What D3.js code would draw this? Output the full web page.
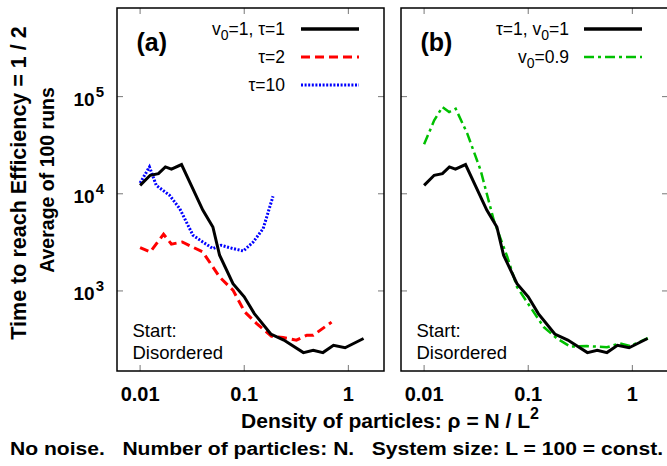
<!DOCTYPE html>
<html>
<head>
<meta charset="utf-8">
<script src="https://cdn.jsdelivr.net/npm/d3@7"></script>
<style>
body { margin: 0; background: #fff; }
svg { font-family: "Liberation Sans", Arial, sans-serif; }
</style>
</head>
<body>
<script>
// v0=1, tau=1 (same run shown in both panels)
let rhoBase = [0.01, 0.0125, 0.015, 0.0175, 0.02, 0.025, 0.031, 0.04, 0.05, 0.058, 0.078, 0.1, 0.125, 0.18, 0.24, 0.37, 0.46, 0.57, 0.72, 0.93, 1.4]
let timeBase = [12200, 15500, 16100, 18900, 17900, 20000, 12200, 6800, 4550, 2330, 1190, 870, 585, 360, 312, 232, 245, 232, 276, 260, 324]

// tau=2
let rhoTau2 = [0.01, 0.0125, 0.0168, 0.02, 0.0254, 0.04, 0.058, 0.078, 0.101, 0.131, 0.183, 0.236, 0.317, 0.4, 0.46, 0.69]
let timeTau2 = [2800, 2520, 3830, 3030, 3190, 2520, 1390, 1020, 610, 464, 342, 332, 312, 350, 350, 478]

// tau=10
let rhoTau10 = [0.01, 0.0123, 0.0143, 0.0192, 0.024, 0.0322, 0.04, 0.05, 0.06, 0.078, 0.098, 0.122, 0.152, 0.189]
let timeTau10 = [12900, 18900, 12200, 9650, 7040, 3740, 3190, 2730, 2950, 2730, 2580, 3190, 4380, 9420]

// v0=0.9
let rhoV09 = [0.01, 0.0125, 0.015, 0.0174, 0.0201, 0.026, 0.0349, 0.0467, 0.063, 0.078, 0.105, 0.141, 0.189, 0.254, 0.366, 0.57, 0.76, 0.95, 1.41]
let timeV09 = [32300, 57000, 78200, 69600, 75100, 41600, 17450, 5340, 2240, 1100, 680, 425, 324, 267, 271, 263, 289, 271, 326]

let xTicks = [0.01, 0.1, 1]
let xTickLabels = ["0.01", "0.1", "1"]
let yTicks = [1e3, 1e4, 1e5]
let yTickExp = ["3", "4", "5"]

let width = 667
let height = 466
let panelW = 267
let panelH = 363

let svg = d3.select("body")
	.append("svg")
	.attr("width", width)
	.attr("height", height)

let x = d3.scaleLog().domain([0.006, 2.2]).range([0, panelW])
let y = d3.scaleLog().domain([150, 8.17e5]).range([panelH, 0])

let line = d3.line()
	.x(d => x(d[0]))
	.y(d => y(d[1]))

let zip = (a, b) => a.map((v, i) => [v, b[i]])

let styles = {
	black: {stroke: "#000", width: 3, dash: null},
	red: {stroke: "#ff0000", width: 3, dash: "9,5"},
	blue: {stroke: "#0000ff", width: 3, dash: "2,1.6"},
	green: {stroke: "#00c000", width: 2.5, dash: "10,4,3,4"}
}

let drawPanel = function(px, tag, series, legend) {
	let g = svg.append("g").attr("transform", "translate(" + px + ",8)")

	// clip so lines stay inside the frame
	let clipId = "clip" + tag
	g.append("clipPath").attr("id", clipId)
		.append("rect").attr("width", panelW).attr("height", panelH)

	// Ticks (inside, mirrored)
	xTicks.forEach(t => {
		g.append("line").attr("x1", x(t)).attr("x2", x(t)).attr("y1", panelH).attr("y2", panelH - 6)
			.attr("stroke", "#777").attr("stroke-width", 1)
		g.append("line").attr("x1", x(t)).attr("x2", x(t)).attr("y1", 0).attr("y2", 6)
			.attr("stroke", "#777").attr("stroke-width", 1)
	})
	yTicks.forEach(t => {
		g.append("line").attr("x1", 0).attr("x2", 6).attr("y1", y(t)).attr("y2", y(t))
			.attr("stroke", "#777").attr("stroke-width", 1)
		g.append("line").attr("x1", panelW).attr("x2", panelW - 6).attr("y1", y(t)).attr("y2", y(t))
			.attr("stroke", "#777").attr("stroke-width", 1)
	})

	// x tick labels
	g.selectAll(".xlab")
		.data(xTicks)
		.enter()
		.append("text")
		.attr("x", d => x(d))
		.attr("y", panelH + 30)
		.attr("text-anchor", "middle")
		.attr("font-size", 20)
		.attr("font-weight", "bold")
		.text((d, i) => xTickLabels[i])

	// series
	series.forEach(s => {
		let st = styles[s.style]
		g.append("path")
			.attr("clip-path", "url(#" + clipId + ")")
			.attr("d", line(zip(s.xs, s.ys)))
			.attr("fill", "none")
			.attr("stroke", st.stroke)
			.attr("stroke-width", st.width)
			.attr("stroke-dasharray", st.dash)
			.attr("stroke-linejoin", "miter")
	})

	// frame
	g.append("rect")
		.attr("width", panelW)
		.attr("height", panelH)
		.attr("fill", "none")
		.attr("stroke", "#000")
		.attr("stroke-width", 1.5)

	// panel tag
	g.append("text")
		.attr("x", 19.5)
		.attr("y", 43)
		.attr("font-size", 25)
		.attr("font-weight", "bold")
		.text("(" + tag + ")")

	// legend
	legend.forEach((l, i) => {
		let ly = 21 + i * 28
		let st = styles[l.style]
		let t = g.append("text")
			.attr("x", l.textX)
			.attr("y", ly + 6)
			.attr("text-anchor", "end")
			.attr("font-size", 17.5)
		l.parts.forEach(p => {
			let ts = t.append("tspan").text(p.t)
			if (p.sub) ts.attr("font-size", 14).attr("dy", 5)
			if (p.after) ts.attr("dy", -5)
		})
		g.append("line")
			.attr("x1", l.lineX)
			.attr("x2", l.lineX + 58)
			.attr("y1", ly)
			.attr("y2", ly)
			.attr("stroke", st.stroke)
			.attr("stroke-width", l.style == "black" ? 3.5 : st.width)
			.attr("stroke-dasharray", st.dash)
	})

	// start note
	g.append("text").attr("font-size", 18.5)
		.attr("x", 15.5).attr("y", 328.5).text("Start:")
	g.append("text").attr("font-size", 18.5)
		.attr("x", 15.5).attr("y", 350.5).text("Disordered")

	return g
}

let gA = drawPanel(117, "a", [
	{xs: rhoTau10, ys: timeTau10, style: "blue"},
	{xs: rhoTau2, ys: timeTau2, style: "red"},
	{xs: rhoBase, ys: timeBase, style: "black"}
], [
	{style: "black", textX: 168, lineX: 184, parts: [{t: "v"}, {t: "0", sub: true}, {t: "=1, \u03c4=1", after: true}]},
	{style: "red", textX: 168, lineX: 184, parts: [{t: "\u03c4=2"}]},
	{style: "blue", textX: 168, lineX: 184, parts: [{t: "\u03c4=10"}]}
])

let gB = drawPanel(401, "b", [
	{xs: rhoV09, ys: timeV09, style: "green"},
	{xs: rhoBase, ys: timeBase, style: "black"}
], [
	{style: "black", textX: 168, lineX: 183, parts: [{t: "\u03c4=1, v"}, {t: "0", sub: true}, {t: "=1", after: true}]},
	{style: "green", textX: 168, lineX: 183, parts: [{t: "v"}, {t: "0", sub: true}, {t: "=0.9", after: true}]}
])

// y tick labels (left panel only)
yTicks.forEach((t, i) => {
	let txt = svg.append("text")
		.attr("x", 104)
		.attr("y", 8 + y(t) + 9)
		.attr("text-anchor", "end")
		.attr("font-size", 19)
		.attr("font-weight", "bold")
	txt.append("tspan").text("10")
	txt.append("tspan").attr("dy", -9).attr("dx", 1).attr("font-size", 15).text(yTickExp[i])
})

// y axis titles
svg.append("text")
	.attr("transform", "translate(25.5,183) rotate(-90)")
	.attr("text-anchor", "middle")
	.attr("font-size", 21.5)
	.attr("font-weight", "bold")
	.text("Time to reach Efficiency = 1 / 2")
svg.append("text")
	.attr("transform", "translate(54,180) rotate(-90)")
	.attr("text-anchor", "middle")
	.attr("font-size", 19.5)
	.attr("font-weight", "bold")
	.text("Average of 100 runs")

// x axis title
let xt = svg.append("text")
	.attr("x", 390)
	.attr("y", 428)
	.attr("text-anchor", "middle")
	.attr("font-size", 21)
	.attr("font-weight", "bold")
xt.append("tspan").text("Density of particles: \u03c1 = N / L")
xt.append("tspan").attr("dy", -9).attr("font-size", 16).text("2")

// footnote
svg.append("text")
	.attr("x", 10)
	.attr("y", 455)
	.attr("font-size", 18)
	.attr("font-weight", "bold")
	.attr("textLength", 653)
	.attr("lengthAdjust", "spacingAndGlyphs")
	.style("white-space", "pre")
	.text("No noise.   Number of particles: N.   System size: L = 100 = const.")
</script>
</body>
</html>
